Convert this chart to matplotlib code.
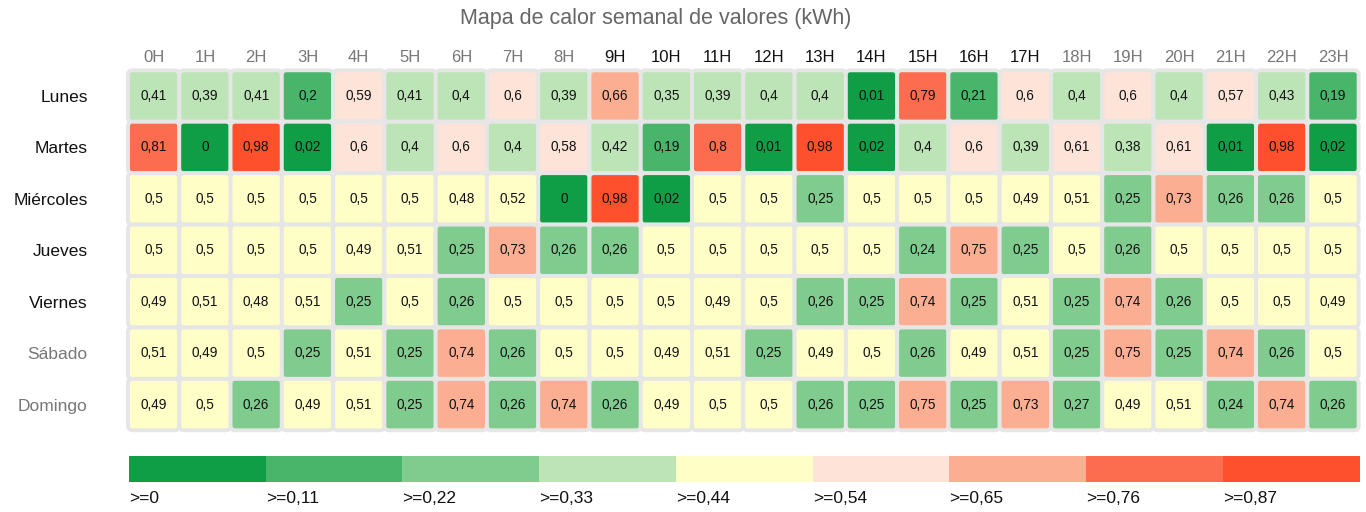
import numpy as np
import matplotlib
matplotlib.use("Agg")
import matplotlib.pyplot as plt
from matplotlib.patches import FancyBboxPatch, Rectangle

plt.rcParams['font.family'] = ['Liberation Sans', 'DejaVu Sans']

# === data ===
title = "Mapa de calor semanal de valores (kWh)"
hours = [f"{h}H" for h in range(24)]
days = ["Lunes", "Martes", "Miércoles", "Jueves", "Viernes", "Sábado", "Domingo"]

lunes = [0.41, 0.39, 0.41, 0.2, 0.59, 0.41, 0.4, 0.6, 0.39, 0.66, 0.35, 0.39,
         0.4, 0.4, 0.01, 0.79, 0.21, 0.6, 0.4, 0.6, 0.4, 0.57, 0.43, 0.19]
martes = [0.81, 0, 0.98, 0.02, 0.6, 0.4, 0.6, 0.4, 0.58, 0.42, 0.19, 0.8,
          0.01, 0.98, 0.02, 0.4, 0.6, 0.39, 0.61, 0.38, 0.61, 0.01, 0.98, 0.02]
miercoles = [0.5, 0.5, 0.5, 0.5, 0.5, 0.5, 0.48, 0.52, 0, 0.98, 0.02, 0.5,
             0.5, 0.25, 0.5, 0.5, 0.5, 0.49, 0.51, 0.25, 0.73, 0.26, 0.26, 0.5]
jueves = [0.5, 0.5, 0.5, 0.5, 0.49, 0.51, 0.25, 0.73, 0.26, 0.26, 0.5, 0.5,
          0.5, 0.5, 0.5, 0.24, 0.75, 0.25, 0.5, 0.26, 0.5, 0.5, 0.5, 0.5]
viernes = [0.49, 0.51, 0.48, 0.51, 0.25, 0.5, 0.26, 0.5, 0.5, 0.5, 0.5, 0.49,
           0.5, 0.26, 0.25, 0.74, 0.25, 0.51, 0.25, 0.74, 0.26, 0.5, 0.5, 0.49]
sabado = [0.51, 0.49, 0.5, 0.25, 0.51, 0.25, 0.74, 0.26, 0.5, 0.5, 0.49, 0.51,
          0.25, 0.49, 0.5, 0.26, 0.49, 0.51, 0.25, 0.75, 0.25, 0.74, 0.26, 0.5]
domingo = [0.49, 0.5, 0.26, 0.49, 0.51, 0.25, 0.74, 0.26, 0.74, 0.26, 0.49, 0.5,
           0.5, 0.26, 0.25, 0.75, 0.25, 0.73, 0.27, 0.49, 0.51, 0.24, 0.74, 0.26]

values = np.array([lunes, martes, miercoles, jueves, viernes, sabado, domingo])

# color bins
thresholds = [0, 0.109, 0.218, 0.327, 0.436, 0.544, 0.653, 0.762, 0.871]
bin_labels = [">=0", ">=0,11", ">=0,22", ">=0,33", ">=0,44", ">=0,54", ">=0,65", ">=0,76", ">=0,87"]
bin_colors = ["#0f9e46", "#48b56b", "#80cc8f", "#bce4b6", "#fefec6",
              "#fde3d8", "#fbae91", "#fc6c4e", "#fe502d"]

gray_hours = set(list(range(0, 9)) + list(range(18, 24)))
gray_days = {"Sábado", "Domingo"}


def fmt(v):
    s = f"{v:.2f}".rstrip("0").rstrip(".")
    return s.replace(".", ",")


def color_for(v):
    idx = np.searchsorted(thresholds, v, side="right") - 1
    return bin_colors[max(idx, 0)]


fig = plt.figure(figsize=(13.66, 5.12), dpi=100)
fig.text(0.48, 0.963, title, ha="center", va="center", fontsize=15.5, color="#666666")

# === heatmap ===
ax = fig.add_axes([0.0937, 0.1596, 0.9009, 0.7031])
ax.set_xlim(-0.5, len(hours) - 0.5)
ax.set_ylim(len(days) - 0.5, -0.5)
for r in range(len(days)):
    for c in range(len(hours)):
        v = values[r, c]
        patch = FancyBboxPatch((c - 0.5, r - 0.5), 1.0, 1.0,
                               boxstyle="round,pad=0,rounding_size=0.09",
                               facecolor=color_for(v), edgecolor="#e6e6e6",
                               linewidth=2.8, clip_on=False)
        ax.add_patch(patch)
        ax.text(c, r, fmt(v), ha="center", va="center", fontsize=9.8, color="#111111")

ax.set_xticks(range(len(hours)))
ax.set_xticklabels(hours, fontsize=12)
ax.xaxis.tick_top()
ax.set_yticks(range(len(days)))
ax.set_yticklabels(days, fontsize=12.5)
ax.tick_params(axis="x", length=0, pad=4)
ax.tick_params(axis="y", length=0, pad=29)
for i, lbl in enumerate(ax.get_xticklabels()):
    lbl.set_color("#777777" if i in gray_hours else "#111111")
for lbl in ax.get_yticklabels():
    lbl.set_color("#777777" if lbl.get_text() in gray_days else "#111111")
for s in ax.spines.values():
    s.set_visible(False)

# === legend bar ===
lax = fig.add_axes([0.0944, 0.0586, 0.9009, 0.0508])
lax.set_xlim(0, len(bin_colors))
lax.set_ylim(0, 1)
for i, col in enumerate(bin_colors):
    lax.add_patch(Rectangle((i, 0), 1, 1, facecolor=col, edgecolor="none"))
    lax.text(i, -0.62, bin_labels[i], ha="left", va="center", fontsize=12.5, color="#111111")
lax.axis("off")

fig.savefig("out.png", dpi=100)
